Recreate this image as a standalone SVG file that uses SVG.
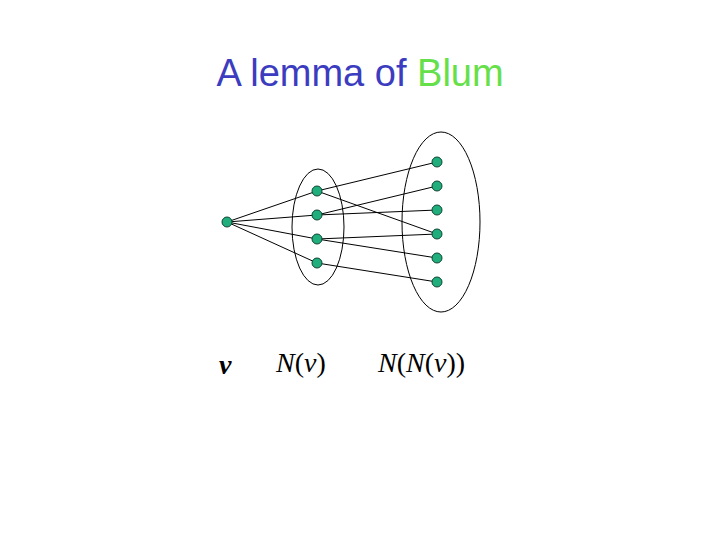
<svg xmlns="http://www.w3.org/2000/svg" width="720" height="540" viewBox="0 0 720 540">
<style>
.n{fill:#1fae7c;stroke:#114433;stroke-width:1}
.e{stroke:#000;stroke-width:1;fill:none}
.m{font-family:"Liberation Serif",serif;font-style:italic;font-size:28px;fill:#000}
</style>
<rect width="720" height="540" fill="#fff"/>
<text x="360" y="86" text-anchor="middle" font-family="Liberation Sans,Arial,sans-serif" font-size="38" fill="#3c3cc0">A lemma of <tspan fill="#66e04a">Blum</tspan></text>
<g id="sets" class="e">
<ellipse cx="318" cy="227" rx="26" ry="58"/>
<ellipse cx="441" cy="222" rx="39" ry="90"/>
</g>
<g id="connectors" class="e">
<line x1="227" y1="222" x2="317" y2="191"/>
<line x1="227" y1="222" x2="317" y2="215"/>
<line x1="227" y1="222" x2="317" y2="239"/>
<line x1="227" y1="222" x2="317" y2="263"/>
<line x1="317" y1="191" x2="437" y2="162"/>
<line x1="317" y1="191" x2="437" y2="234"/>
<line x1="317" y1="215" x2="437" y2="186"/>
<line x1="317" y1="215" x2="437" y2="210"/>
<line x1="317" y1="239" x2="437" y2="234"/>
<line x1="317" y1="239" x2="437" y2="258"/>
<line x1="317" y1="263" x2="437" y2="282"/>
</g>
<g id="v"><circle class="n" cx="227" cy="222" r="5"/></g>
<g id="Nv">
<circle class="n" cx="317" cy="191" r="5"/><circle class="n" cx="317" cy="215" r="5"/>
<circle class="n" cx="317" cy="239" r="5"/><circle class="n" cx="317" cy="263" r="5"/>
</g>
<g id="NNv">
<circle class="n" cx="437" cy="162" r="5"/><circle class="n" cx="437" cy="186" r="5"/>
<circle class="n" cx="437" cy="210" r="5"/><circle class="n" cx="437" cy="234" r="5"/>
<circle class="n" cx="437" cy="258" r="5"/><circle class="n" cx="437" cy="282" r="5"/>
</g>
<text class="m" x="219" y="374" font-weight="bold">v</text>
<text class="m" x="276" y="372">N<tspan font-style="normal">(</tspan>v<tspan font-style="normal">)</tspan></text>
<text class="m" x="378" y="372">N<tspan font-style="normal">(</tspan>N<tspan font-style="normal">(</tspan>v<tspan font-style="normal">))</tspan></text>
</svg>
